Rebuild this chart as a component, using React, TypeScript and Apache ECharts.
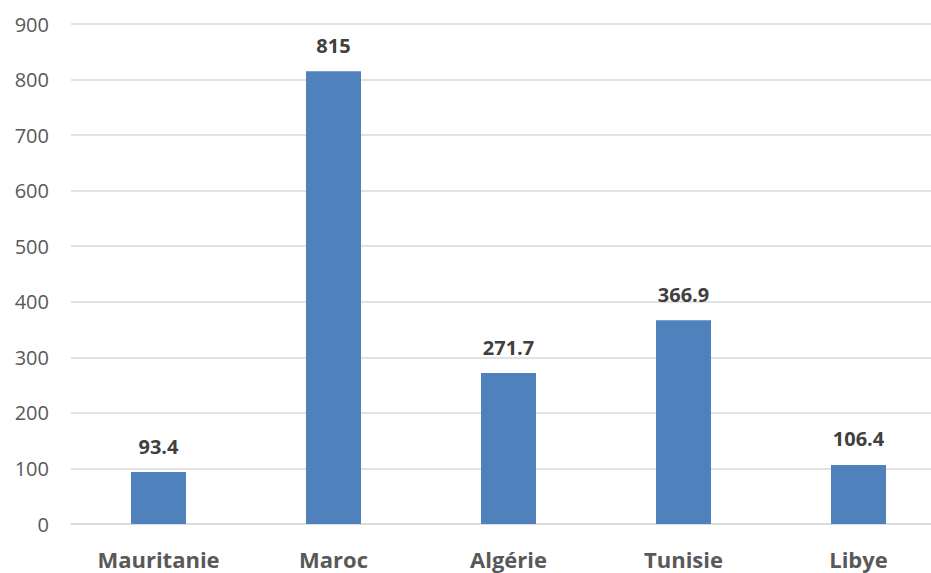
import React, { useEffect, useRef } from "react";
import * as echarts from "echarts";

const countries = ["Mauritanie", "Maroc", "Algérie", "Tunisie", "Libye"];
const values = [93.4, 815, 271.7, 366.9, 106.4];

export default function App() {
  const ref = useRef<HTMLDivElement>(null);

  useEffect(() => {
    if (!ref.current) return;
    const chart = echarts.init(ref.current, undefined, { renderer: "svg" });
    chart.setOption({
      animation: false,
      backgroundColor: "#ffffff",
      grid: { left: 71, right: 0, top: 24, bottom: 49, containLabel: false },
      xAxis: {
        type: "category",
        data: countries,
        axisLine: { show: true, lineStyle: { color: "#d9d9d9", width: 1.5 } },
        axisTick: { show: false },
        axisLabel: {
          color: "#595959",
          fontSize: 22,
          fontWeight: "bold",
          fontFamily: "Open Sans, sans-serif",
          margin: 24,
        },
      },
      yAxis: {
        type: "value",
        min: 0,
        max: 900,
        interval: 100,
        axisLine: { show: false },
        axisTick: { show: false },
        splitLine: { lineStyle: { color: "#d9d9d9", width: 1.5 } },
        axisLabel: {
          color: "#595959",
          fontSize: 20,
          fontFamily: "Open Sans, sans-serif",
          margin: 22,
        },
      },
      series: [
        {
          type: "bar",
          data: values,
          barWidth: 55,
          itemStyle: { color: "#4f81bd" },
          label: {
            show: true,
            position: "top",
            distance: 16,
            color: "#404040",
            fontSize: 20,
            fontWeight: "bold",
            fontFamily: "Open Sans, sans-serif",
          },
        },
      ],
    });
    return () => chart.dispose();
  }, []);

  // The plot runs a little past the right edge of the visible frame.
  return (
    <div
      style={{
        position: "absolute",
        left: 0,
        top: 0,
        width: 931,
        height: 573,
        overflow: "hidden",
        background: "#ffffff",
      }}
    >
      <div ref={ref} style={{ width: 946, height: 573 }} />
    </div>
  );
}
